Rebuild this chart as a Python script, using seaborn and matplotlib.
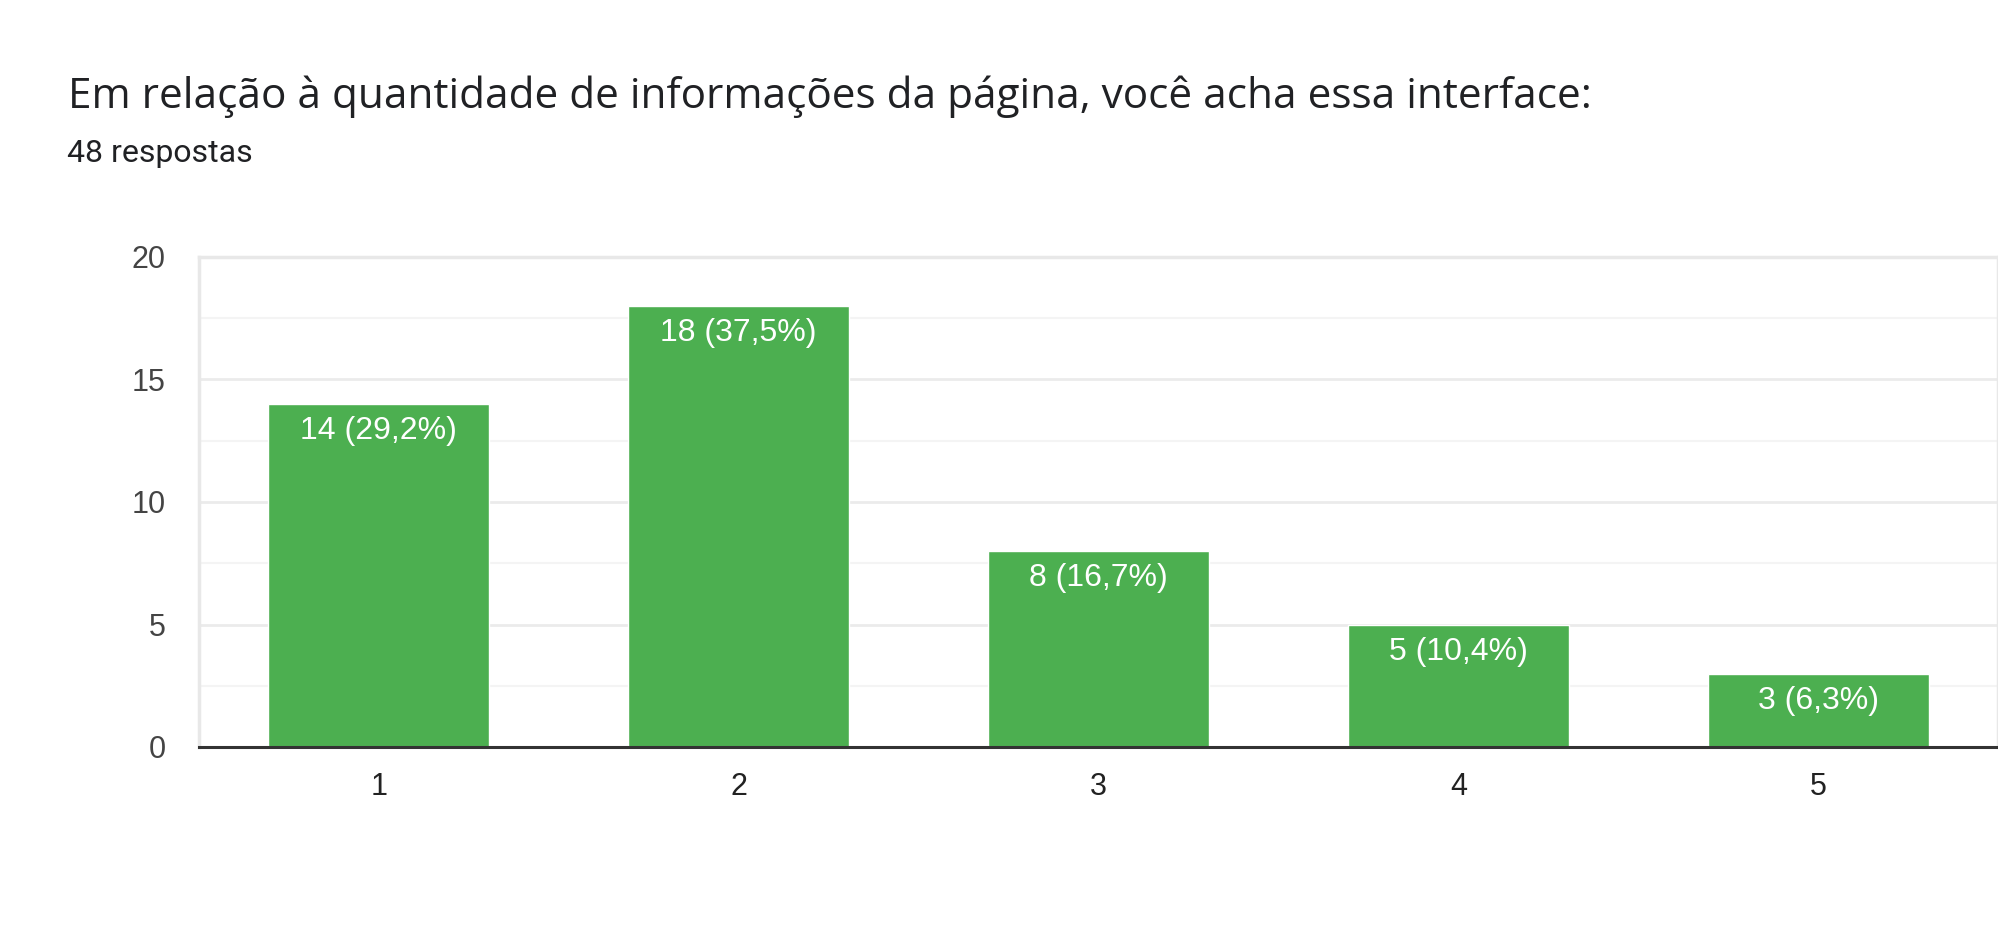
import matplotlib
matplotlib.use("Agg")
import matplotlib.pyplot as plt
import seaborn as sns
import pandas as pd
from matplotlib.ticker import MultipleLocator

categories = ["1", "2", "3", "4", "5"]
counts = [14, 18, 8, 5, 3]
labels = ["14 (29,2%)", "18 (37,5%)", "8 (16,7%)", "5 (10,4%)", "3 (6,3%)"]
title = "Em relação à quantidade de informações da página, você acha essa interface:"
subtitle = "48 respostas"

sns.set_theme(style="white")
plt.rcParams["font.family"] = ["Liberation Sans", "DejaVu Sans"]

df = pd.DataFrame({"cat": categories, "n": counts})

fig = plt.figure(figsize=(19.99, 9.5), dpi=100)
ax = fig.add_axes([199 / 1999, 1 - 747 / 950, 1799 / 1999, 490 / 950])

sns.barplot(data=df, x="cat", y="n", order=categories, color="#4CAF50",
            saturation=1, width=0.614, ax=ax, zorder=3)

ax.set_xlim(-0.5, 4.5)
ax.set_ylim(0, 20)
ax.yaxis.set_major_locator(MultipleLocator(5))
ax.yaxis.set_minor_locator(MultipleLocator(2.5))
ax.grid(axis="y", which="major", color="#ebebeb", linewidth=2, zorder=0)
ax.grid(axis="y", which="minor", color="#f4f4f4", linewidth=1.5, zorder=0)
ax.grid(axis="x", visible=False)
ax.set_xlabel("")
ax.set_ylabel("")

for side in ["left", "right", "top"]:
    ax.spines[side].set_color("#e8e8e8")
    ax.spines[side].set_linewidth(2.5)
ax.spines["bottom"].set_color("#333333")
ax.spines["bottom"].set_linewidth(2.2)
ax.spines["bottom"].set_zorder(5)

ax.tick_params(axis="y", which="both", length=0, pad=24, labelsize=22, labelcolor="#444444")
ax.tick_params(axis="x", length=0, pad=18, labelsize=22, labelcolor="#222222")

for i, (v, lab) in enumerate(zip(counts, labels)):
    ax.annotate(lab, xy=(i, v), xytext=(0, -9), textcoords="offset points",
                ha="center", va="top", color="white", fontsize=23, zorder=6)

fig.text(68 / 1999, 1 - 108 / 950, title, fontsize=30.4, color="#202124",
         family=["Open Sans", "DejaVu Sans"], ha="left", va="baseline")
fig.text(67 / 1999, 1 - 162 / 950, subtitle, fontsize=23, color="#202124",
         family=["Roboto", "DejaVu Sans"], ha="left", va="baseline")

fig.savefig("out.png", dpi=100, facecolor="white")
